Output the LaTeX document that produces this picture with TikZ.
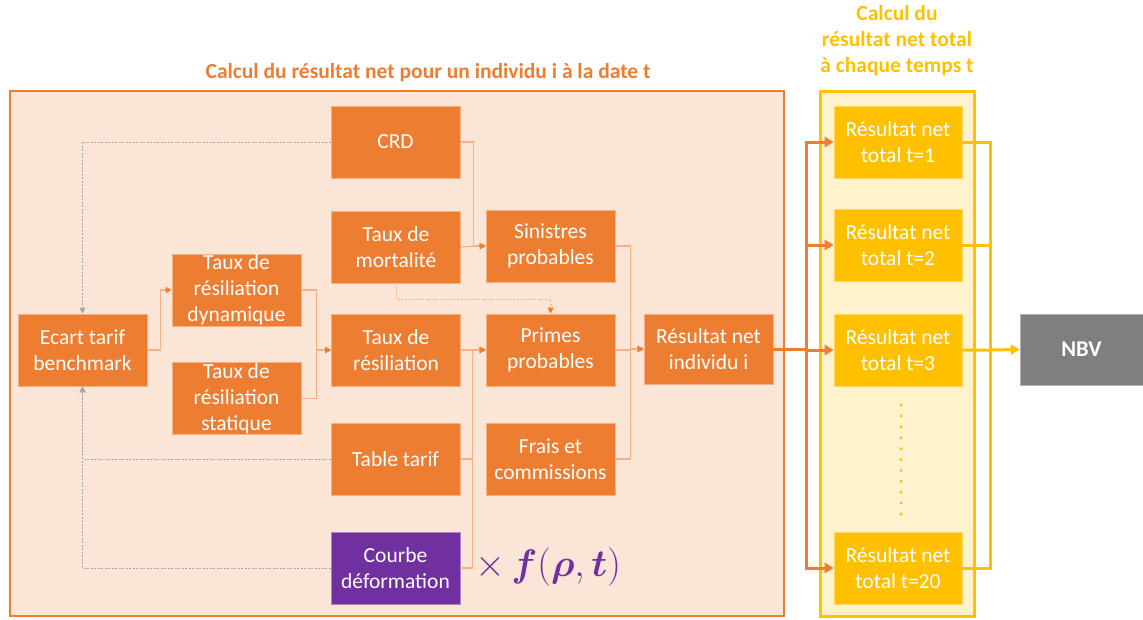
\documentclass[tikz,border=0pt]{standalone}
\usepackage{amsmath}
\usepackage{fontspec}
\setmainfont{Carlito}
\usetikzlibrary{arrows.meta}

\definecolor{orangeA}{HTML}{ED7D31}
\definecolor{peach}{HTML}{FBE5D6}
\definecolor{linkorange}{HTML}{F4B183}
\definecolor{goldA}{HTML}{FFC000}
\definecolor{paleyellow}{HTML}{FFF2CC}
\definecolor{purpleA}{HTML}{7030A0}
\definecolor{greyA}{HTML}{7F7F7F}
\definecolor{dashgrey}{HTML}{A6A6A6}

\tikzset{
  box/.style={fill=orangeA, draw=orangeA!60!white, line width=0.6pt,
    minimum width=129pt, minimum height=72pt, inner sep=1pt,
    text=white, align=center, font=\fontsize{21.5}{26}\selectfont},
  ybox/.style={box, fill=goldA, draw=goldA!60!white, minimum width=128pt},
  link/.style={draw=linkorange, line width=1.1pt,
    -{Triangle[length=6pt,width=6pt,color=orangeA]}},
  dlink/.style={link, dash pattern=on 2pt off 1.5pt, line width=0.9pt},
  glink/.style={draw=dashgrey, line width=0.8pt, dash pattern=on 2pt off 1.5pt,
    -{Triangle[length=6pt,width=6pt,color=dashgrey]}},
  fanout/.style={draw=orangeA, line width=3pt,
    -{Triangle[length=9pt,width=10pt]}},
  fanin/.style={draw=goldA, line width=3pt},
  title/.style={font=\bfseries\fontsize{21.5}{26}\selectfont, align=center},
}

\begin{document}
\begin{tikzpicture}[x=1pt,y=-1pt]
\useasboundingbox (0,0) rectangle (1143,619);

% frames of the two stages
\filldraw[fill=peach, draw=orangeA, line width=2.5pt] (10,91) rectangle (784,616);
\filldraw[fill=paleyellow, draw=goldA, line width=3pt] (820,91) rectangle (974,616);

\node[title, text=orangeA] (ttl1) at (428,73) {Calcul du résultat net pour un individu i à la date t};
\node[title, text=goldA] (ttl2) at (897,41) {Calcul du\\résultat net total\\à chaque temps t};

% individual-level blocks
\node[box] (crd) at (395.5,142) {CRD};
\node[box] (mort) at (396,247) {Taux de\\mortalité};
\node[box] (sin) at (550.5,246) {Sinistres\\probables};
\node[box] (dyn) at (236.5,290) {Taux de\\résiliation\\dynamique};
\node[box] (sta) at (236.5,398.5) {Taux de\\résiliation\\statique};
\node[box] (ecart) at (82.5,350) {Ecart tarif\\benchmark};
\node[box] (res) at (396,350) {Taux de\\résiliation};
\node[box] (primes) at (550.5,350) {Primes\\probables};
\node[box, minimum height=70pt] (ind) at (708.5,349) {Résultat net\\individu i};
\node[box] (table) at (395.5,459) {Table tarif};
\node[box] (frais) at (550.5,459) {Frais et\\commissions};
\node[box, fill=purpleA, draw=purpleA!60!white] (courbe) at (395.5,568) {Courbe\\déformation};
\node[text=purpleA, font=\fontsize{20}{22}\selectfont, scale=1.85, inner sep=0pt] (fct) at (548,567)
  {$\times\,\boldsymbol{f}(\boldsymbol{\rho},\boldsymbol{t})$};

% totals per time step
\node[ybox] (t1) at (898,142) {Résultat net\\total t=1};
\node[ybox] (t2) at (898,245) {Résultat net\\total t=2};
\node[ybox] (t3) at (898,350) {Résultat net\\total t=3};
\node[ybox] (t20) at (898,568) {Résultat net\\total t=20};
\foreach \i in {0,...,10}
  \fill[goldA] (901,405+\i*10.9) circle (1.6);

\node[box, fill=greyA, draw=greyA!60!white, minimum width=123pt, minimum height=71pt,
  font=\bfseries\fontsize{22.5}{26}\selectfont] (nbv) at (1081.5,349.5) {NBV};

% flows inside the individual computation
\draw[link] (crd.east) -- ++(13,0) |- (sin.west);
\draw[link] (mort.east) -- (sin.west);
\draw[dlink] (mort.south) -- ++(0,16) -| (primes.north);
\draw[link] (sin.east) -- ++(15,0) |- (ind.west);
\draw[link] (primes.east) -- ++(15,0) |- (ind.west);
\draw[link] (frais.east) -- ++(15,0) |- (ind.west);
\draw[link] (res.east) -- ++(12,0) |- (primes.west);
\draw[link] (table.east) -- ++(12,0) |- (primes.west);
\draw[link] (courbe.east) -- ++(12,0) |- (primes.west);
\draw[link] (ecart.east) -- ++(13,0) |- (dyn.west);
\draw[link] (dyn.east) -- ++(15,0) |- (res.west);
\draw[link] (sta.east) -- ++(15,0) |- (res.west);

% feedback into the tariff gap
\draw[glink] (crd.west) -| (ecart.north);
\draw[glink] (table.west) -| (ecart.south);
\draw[glink] (courbe.west) -| (ecart.south);

% fan-out to every time step
\draw[fanout] (ind.east) -- ++(33,0) |- (t1.west);
\draw[fanout] (ind.east) -- ++(33,0) |- (t2.west);
\draw[fanout] (ind.east) -- ++(33,0) |- (t3.west);
\draw[fanout] (ind.east) -- ++(33,0) |- (t20.west);

% aggregation into the NBV
\coordinate (agg) at (990,349.5);
\draw[fanin] (t1.east) -| (agg);
\draw[fanin] (t2.east) -| (agg);
\draw[fanin] (t20.east) -| (agg);
\draw[fanin, -{Triangle[length=9pt,width=10pt]}] (t3.east) -- (t3.east -| agg) -- (nbv.west);
\end{tikzpicture}
\end{document}
